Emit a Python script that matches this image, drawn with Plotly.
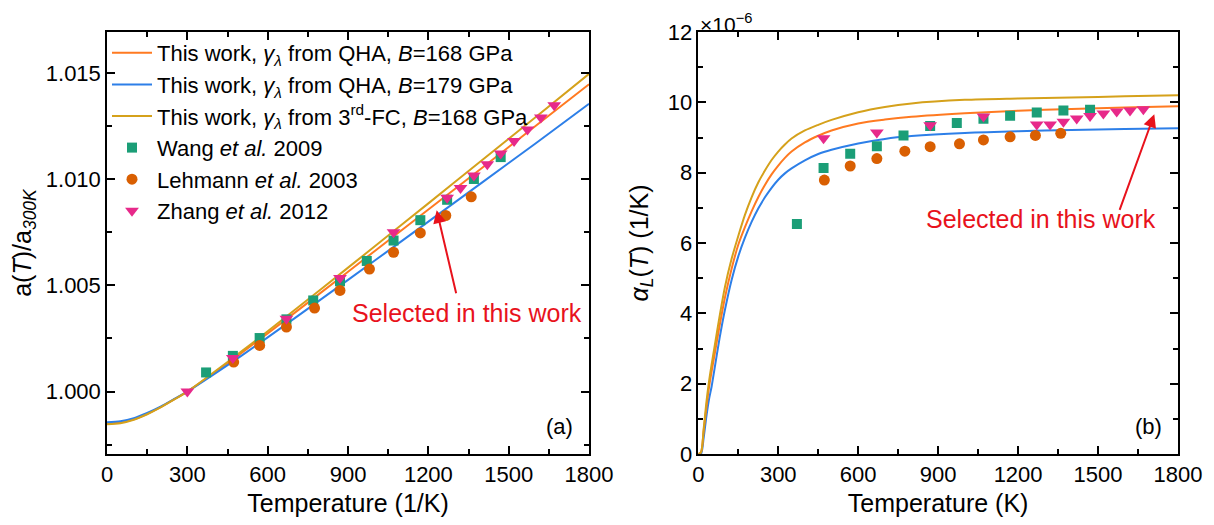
import plotly.graph_objects as go

# ---------------- data ----------------
# model curves, panel (a): a(T)/a300K
T_a = [0, 50, 100, 150, 200, 250, 300, 400, 500, 600, 800, 1000, 1200, 1400, 1600, 1800]
a_qha168 = [0.99849, 0.99854, 0.99869, 0.99895, 0.99927, 0.99963, 1.00000, 1.00088, 1.00180,
            1.00274, 1.00467, 1.00662, 1.00857, 1.01053, 1.01250, 1.01447]
a_qha179 = [0.99856, 0.99860, 0.99874, 0.99899, 0.99929, 0.99964, 1.00000, 1.00082, 1.00167,
            1.00255, 1.00435, 1.00617, 1.00800, 1.00984, 1.01168, 1.01355]
a_3fc168 = [0.99846, 0.99851, 0.99867, 0.99893, 0.99925, 0.99962, 1.00000, 1.00092, 1.00187,
            1.00284, 1.00483, 1.00684, 1.00886, 1.01089, 1.01292, 1.01496]

# model curves, panel (b): alpha_L(T) in 1e-6 /K
T_b = [0, 10, 20, 30, 40, 50, 60, 80, 100, 125, 150, 175, 200, 225, 250, 275, 300, 325, 350,
       400, 450, 500, 600, 700, 800, 1000, 1200, 1400, 1600, 1800]
al_qha168 = [0, 0.05, 0.65, 1.3, 1.88, 2.35, 2.78, 3.65, 4.45, 5.27, 5.95, 6.45, 6.9, 7.3, 7.65,
             7.95, 8.2, 8.42, 8.6, 8.86, 9.05, 9.2, 9.4, 9.51, 9.59, 9.69, 9.76, 9.81, 9.85, 9.89]
al_qha179 = [0, 0.0, 0.45, 1.05, 1.55, 1.92, 2.38, 3.3, 4.1, 4.95, 5.62, 6.15, 6.6, 6.98, 7.3,
             7.57, 7.8, 7.98, 8.12, 8.35, 8.53, 8.65, 8.83, 8.96, 9.04, 9.13, 9.18, 9.21, 9.24, 9.26]
al_3fc168 = [0, 0.05, 0.7, 1.45, 2.05, 2.55, 3.0, 3.92, 4.75, 5.55, 6.2, 6.8, 7.3, 7.72, 8.06,
             8.36, 8.6, 8.8, 8.97, 9.2, 9.36, 9.5, 9.72, 9.87, 9.97, 10.07, 10.11, 10.14, 10.17, 10.2]

# experiments
T_wang = [370, 470, 570, 670, 770, 870, 970, 1070, 1170, 1270, 1370, 1470]
a_wang = [1.0009, 1.00168, 1.00252, 1.0034, 1.00429, 1.00519, 1.00615, 1.00711, 1.00807,
          1.00903, 1.01001, 1.01104]
al_wang = [6.54, 8.13, 8.54, 8.75, 9.06, 9.33, 9.41, 9.53, 9.62, 9.71, 9.77, 9.79]

T_leh = [473, 570, 670, 775, 870, 980, 1070, 1170, 1265, 1360]
a_leh = [1.00139, 1.00217, 1.00304, 1.00393, 1.00476, 1.00577, 1.00656, 1.00747, 1.00829, 1.00917]
al_leh = [7.79, 8.19, 8.40, 8.61, 8.74, 8.82, 8.93, 9.02, 9.06, 9.12]

T_zhang_a = [300, 470, 670, 870, 1070, 1270, 1320, 1370, 1420, 1470, 1520, 1570, 1620, 1670]
a_zhang = [1.0000, 1.00158, 1.00343, 1.00535, 1.00750, 1.00912, 1.00959, 1.01017, 1.0107,
           1.01121, 1.0118, 1.01234, 1.0129, 1.01348]
T_zhang_b = [470, 670, 870, 1070, 1270, 1320, 1370, 1420, 1470, 1520, 1570, 1620, 1670]
al_zhang = [8.98, 9.14, 9.35, 9.60, 9.37, 9.37, 9.45, 9.54, 9.61, 9.68, 9.74, 9.77, 9.80]

# ---------------- styles ----------------
C_OR = "#FF7A21"
C_BL = "#2D7FE8"
C_GD = "#D5A11B"
C_GR = "#1B9E77"
C_LO = "#D95F02"
C_PK = "#E7298A"
RED = "#E8121C"
FONT = "Liberation Sans, Arial, sans-serif"

names = [
    "This work, <i>γ</i><sub><i>λ</i></sub> from QHA, <i>B</i>=168 GPa",
    "This work, <i>γ</i><sub><i>λ</i></sub> from QHA, <i>B</i>=179 GPa",
    "This work, <i>γ</i><sub><i>λ</i></sub> from 3<sup>rd</sup>-FC, <i>B</i>=168 GPa",
    "Wang <i>et al.</i> 2009",
    "Lehmann <i>et al.</i> 2003",
    "Zhang <i>et al.</i> 2012",
]

fig = go.Figure()

def line(x, y, c, name, xa, ya, show):
    fig.add_trace(go.Scatter(x=x, y=y, mode="lines",
                             line=dict(color=c, width=2, shape="spline", smoothing=0.8),
                             name=name, showlegend=show, xaxis=xa, yaxis=ya, legendgroup=name))

def pts(x, y, c, sym, size, name, xa, ya, show):
    fig.add_trace(go.Scatter(x=x, y=y, mode="markers",
                             marker=dict(color=c, symbol=sym, size=size, line=dict(width=0)),
                             name=name, showlegend=show, xaxis=xa, yaxis=ya, legendgroup=name))

# panel (a) (legend entries in reference order)
line(T_a, a_qha168, C_OR, names[0], "x", "y", True)
line(T_a, a_qha179, C_BL, names[1], "x", "y", True)
line(T_a, a_3fc168, C_GD, names[2], "x", "y", True)
pts(T_wang, a_wang, C_GR, "square", 10, names[3], "x", "y", True)
pts(T_leh, a_leh, C_LO, "circle", 11, names[4], "x", "y", True)
pts(T_zhang_a, a_zhang, C_PK, "triangle-down", 12, names[5], "x", "y", True)

# panel (b)
line(T_b, al_qha179, C_BL, names[1], "x2", "y2", False)
line(T_b, al_qha168, C_OR, names[0], "x2", "y2", False)
line(T_b, al_3fc168, C_GD, names[2], "x2", "y2", False)
pts(T_leh, al_leh, C_LO, "circle", 11, names[4], "x2", "y2", False)
pts(T_wang, al_wang, C_GR, "square", 10, names[3], "x2", "y2", False)
pts(T_zhang_b, al_zhang, C_PK, "triangle-down", 12, names[5], "x2", "y2", False)

axis_common = dict(showline=True, linecolor="black", linewidth=1.5, mirror="allticks",
                   ticks="inside", ticklen=8, tickwidth=1.5, tickcolor="black",
                   showgrid=False, zeroline=False,
                   tickfont=dict(family=FONT, size=22, color="black"))
minor_common = dict(ticks="inside", ticklen=5, tickwidth=1.5, tickcolor="black")

fig.update_layout(
    width=1206, height=517,
    margin=dict(l=95, r=26, t=24, b=71),
    plot_bgcolor="white", paper_bgcolor="white",
    font=dict(family=FONT, color="black"),
    legend=dict(x=0.0, y=1.0, xanchor="left", yanchor="top", bgcolor="rgba(0,0,0,0)",
                font=dict(family=FONT, size=22), traceorder="normal", itemwidth=40,
                tracegroupgap=0),
    xaxis=dict(domain=[0, 0.4501], range=[0, 1800], tickvals=[0, 300, 600, 900, 1200, 1500, 1800],
               minor=dict(dtick=150, tick0=0, **minor_common),
               title=dict(text="Temperature (1/K)", font=dict(family=FONT, size=25), standoff=8),
               anchor="y", **axis_common),
    yaxis=dict(domain=[0, 1], range=[0.99706, 1.01693], tickvals=[1.000, 1.005, 1.010, 1.015],
               ticktext=["1.000", "1.005", "1.010", "1.015"],
               minor=dict(dtick=0.0025, tick0=1.0, **minor_common),
               title=dict(text="a(<i>T</i>)/a<sub><i>300K</i></sub>", font=dict(family=FONT, size=25), standoff=8),
               anchor="x", **axis_common),
    xaxis2=dict(domain=[0.5521, 1], range=[0, 1800], tickvals=[0, 300, 600, 900, 1200, 1500, 1800],
                minor=dict(dtick=150, tick0=0, **minor_common),
                title=dict(text="Temperature (K)", font=dict(family=FONT, size=25), standoff=8),
                anchor="y2", **axis_common),
    yaxis2=dict(domain=[0, 1], range=[0, 12], tickvals=[0, 2, 4, 6, 8, 10, 12],
                minor=dict(dtick=1, tick0=0, **minor_common),
                title=dict(text="<i>α</i><sub><i>L</i></sub>(<i>T</i>) (1/K)", font=dict(family=FONT, size=25), standoff=12),
                anchor="x2", **axis_common),
)

# annotations
fig.add_annotation(x=1231, y=1.00854, ax=1305, ay=1.00456, xref="x", yref="y", axref="x", ayref="y",
                   text="", showarrow=True, arrowhead=2, arrowsize=1.3, arrowwidth=2, arrowcolor=RED)
fig.add_annotation(x=1346, y=1.0037, xref="x", yref="y", text="Selected in this work", showarrow=False,
                   font=dict(family=FONT, size=25, color=RED))
fig.add_annotation(x=1711, y=9.66, ax=1579, ay=6.9, xref="x2", yref="y2", axref="x2", ayref="y2",
                   text="", showarrow=True, arrowhead=2, arrowsize=1.3, arrowwidth=2, arrowcolor=RED)
fig.add_annotation(x=1285, y=6.69, xref="x2", yref="y2", text="Selected in this work", showarrow=False,
                   font=dict(family=FONT, size=25, color=RED))
fig.add_annotation(x=0.97, y=0.03, xref="x domain", yref="y domain", text="(a)", showarrow=False,
                   xanchor="right", yanchor="bottom", font=dict(family=FONT, size=22))
fig.add_annotation(x=0.97, y=0.03, xref="x2 domain", yref="y2 domain", text="(b)", showarrow=False,
                   xanchor="right", yanchor="bottom", font=dict(family=FONT, size=22))
fig.add_annotation(x=0, y=1.0, xref="x2 domain", yref="paper", text="×10<sup>−6</sup>", showarrow=False,
                   xanchor="left", yanchor="bottom", yshift=-6, font=dict(family=FONT, size=21))

fig.write_html("out.html")
